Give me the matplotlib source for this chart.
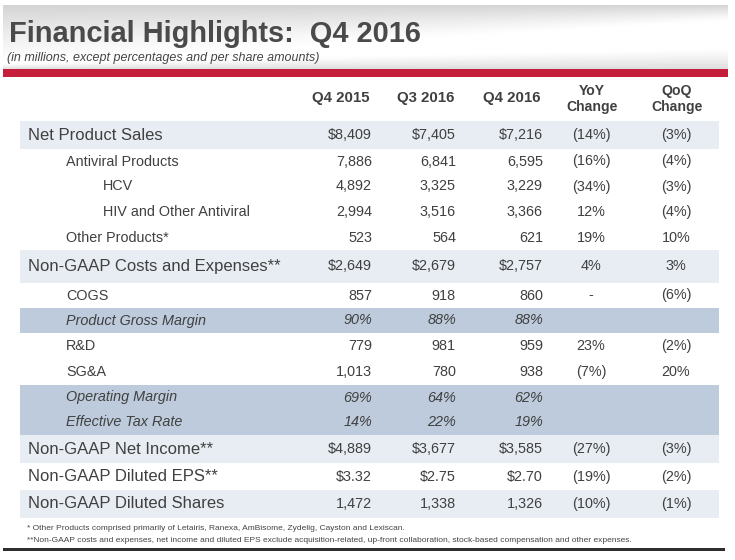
import numpy as np
import matplotlib
matplotlib.use("Agg")
import matplotlib.pyplot as plt
from matplotlib.patches import Rectangle

# ---------------- data ----------------
title = "Financial Highlights:  Q4 2016"
subtitle = "(in millions, except percentages and per share amounts)"
col_headers = ["Q4 2015", "Q3 2016", "Q4 2016", "YoY\nChange", "QoQ\nChange"]

row_labels = ["Net Product Sales", "Antiviral Products", "HCV", "HIV and Other Antiviral",
              "Other Products*", "Non-GAAP Costs and Expenses**", "COGS", "Product Gross Margin",
              "R&D", "SG&A", "Operating Margin", "Effective Tax Rate",
              "Non-GAAP Net Income**", "Non-GAAP Diluted EPS**", "Non-GAAP Diluted Shares"]
q4_2015 = ["$8,409", "7,886", "4,892", "2,994", "523", "$2,649", "857", "90%", "779", "1,013",
           "69%", "14%", "$4,889", "$3.32", "1,472"]
q3_2016 = ["$7,405", "6,841", "3,325", "3,516", "564", "$2,679", "918", "88%", "981", "780",
           "64%", "22%", "$3,677", "$2.75", "1,338"]
q4_2016 = ["$7,216", "6,595", "3,229", "3,366", "621", "$2,757", "860", "88%", "959", "938",
           "62%", "19%", "$3,585", "$2.70", "1,326"]
yoy = ["(14%)", "(16%)", "(34%)", "12%", "19%", "4%", "-", "", "23%", "(7%)", "", "",
       "(27%)", "(19%)", "(10%)"]
qoq = ["(3%)", "(4%)", "(3%)", "(4%)", "10%", "3%", "(6%)", "", "(2%)", "20%", "", "",
       "(3%)", "(2%)", "(1%)"]
footnotes = ["* Other Products comprised primarily of Letairis, Ranexa, AmBisome, Zydelig, Cayston and Lexiscan.",
             "**Non-GAAP costs and expenses, net income and diluted EPS exclude acquisition-related, "
             "up-front collaboration, stock-based compensation and other expenses."]

# ---------------- layout / style ----------------
levels = [0, 1, 2, 2, 1, 0, 1, 1, 1, 1, 1, 1, 0, 0, 0]
bands = ["light", "white", "white", "white", "white", "light", "white", "dark",
         "white", "white", "dark", "dark", "light", "white", "light"]
italic_rows = [False] * 7 + [True] + [False, False, True, True] + [False] * 3
row_h = [28, 25, 25, 26, 25, 33, 25, 25, 26, 26, 25, 25, 28, 27, 28]
band_colors = {"light": "#e8edf4", "dark": "#bdcbdc", "white": "#ffffff"}
level_x = [28, 66, 103]
px = 0.72  # px -> pt at dpi 100
FONT = "Liberation Sans"
TXT = "#404040"

W, H = 735, 560
fig = plt.figure(figsize=(W / 100, H / 100), dpi=100)
ax = fig.add_axes([0, 0, 1, 1])
ax.set_xlim(0, W)
ax.set_ylim(H, 0)
ax.axis("off")

# header gradient background with a white swoosh
hx0, hx1, hy0, hy1 = 3, 728, 5, 69
xs = np.linspace(0, 1, 500)
ys = np.linspace(0, 1, 140)
X, Y = np.meshgrid(xs, ys)
edge_top = 0.95 - 0.7 * X
top_fade = np.clip(1 - Y / edge_top, 0, 1) ** 1.3
edge_bot = 0.92 - 0.25 * X
bot_fade = np.clip((Y - edge_bot) / (1 - edge_bot), 0, 1) ** 1.2
img = 1.0 - 0.17 * top_fade - 0.13 * bot_fade
img = np.clip(img, 0, 1)
ax.imshow(img, cmap="gray", vmin=0, vmax=1, extent=(hx0, hx1, hy1, hy0), aspect="auto",
          interpolation="bilinear", zorder=0)
ax.add_patch(Rectangle((hx0, 69), hx1 - hx0, 8, color="#c41e3a", lw=0, zorder=1))

ax.text(9, 34, title, fontsize=29 * px, fontweight="bold", family=FONT, color="#4a4a4a",
        ha="left", va="center", zorder=3)
ax.text(7, 58, subtitle, fontsize=12.5 * px, style="italic", family=FONT, color="#444444",
        ha="left", va="center", zorder=3)

# columns
num_right = [372, 456, 543]
chg_center = [591, 676]
for i, h in enumerate(col_headers[:3]):
    ax.text(num_right[i] - 2, 98, h, fontsize=15 * px, fontweight="bold", family=FONT,
            color=TXT, ha="right", va="center")
for i, h in enumerate(col_headers[3:]):
    ax.text(chg_center[i] + 1, 99, h, fontsize=14 * px, fontweight="bold", family=FONT,
            color=TXT, ha="center", va="center", linespacing=1.15)

# rows
tx0, tx1 = 20, 719
y = 121
for r, lab in enumerate(row_labels):
    h = row_h[r]
    if bands[r] != "white":
        ax.add_patch(Rectangle((tx0, y), tx1 - tx0, h, color=band_colors[bands[r]], lw=0, zorder=1))
    yc = y + h / 2
    st = "italic" if italic_rows[r] else "normal"
    fs = 16.6 * px if levels[r] == 0 else 14.4 * px
    ax.text(level_x[levels[r]], yc, lab, fontsize=fs, family=FONT, color=TXT, style=st,
            ha="left", va="center", zorder=3)
    for c, col in enumerate([q4_2015, q3_2016, q4_2016]):
        ax.text(num_right[c], yc, col[r], fontsize=14.4 * px, family=FONT, color=TXT, style=st,
                ha="right", va="center", zorder=3)
    for c, col in enumerate([yoy, qoq]):
        ax.text(chg_center[c], yc, col[r], fontsize=14.4 * px, family=FONT, color=TXT,
                ha="center", va="center", zorder=3)
    y += h

# footnotes
ax.text(27, 529, footnotes[0], fontsize=8.4 * px, family=FONT, color="#444444", ha="left", va="center")
ax.text(27, 540, footnotes[1], fontsize=8.4 * px, family=FONT, color="#444444", ha="left", va="center")
ax.add_patch(Rectangle((3, 548), 722, 3, color="#2e2e2e", lw=0))

fig.savefig("out.png", dpi=100)
